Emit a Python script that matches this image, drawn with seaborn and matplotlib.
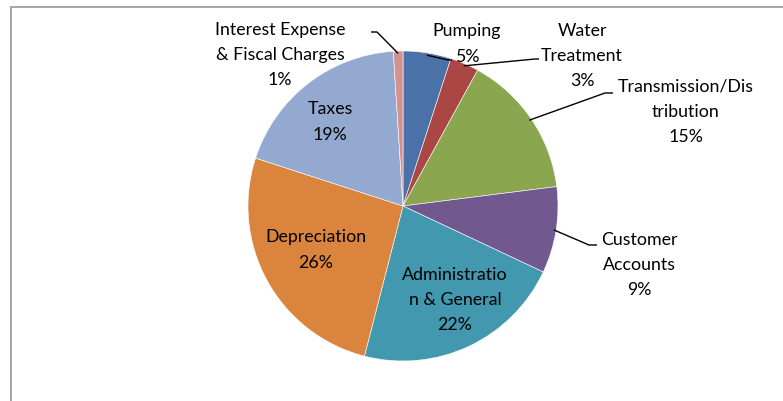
import numpy as np
import matplotlib
matplotlib.use("Agg")
import matplotlib.pyplot as plt
import seaborn as sns
from matplotlib.lines import Line2D

categories = ["Pumping", "Water\nTreatment", "Transmission/Dis\ntribution", "Customer\nAccounts",
              "Administratio\nn & General", "Depreciation", "Taxes",
              "Interest Expense\n& Fiscal Charges"]
values = [5, 3, 15, 9, 22, 26, 19, 1]
colors = ["#4A72A8", "#AA4643", "#8AA64F", "#71588F", "#4198AF", "#DB843D", "#93A9CF", "#D09392"]

# label positions (pixels, y from top) and whether outside with leader
label_pos = [(467, 44, True), (582, 56, True), (686, 112, True), (639, 265, True),
             (455, 300, False), (316, 250, False), (330, 122, False), (280, 55, True)]
# leader elbow points (pixels)
elbows = [(448, 61), (535, 60), (605, 94), (589, 246), None, None, None, (377, 33)]
elbow_end = [(452, 61), (539, 60), (613, 94), (597, 246), None, None, None, (371, 33)]

sns.set_theme(style="white")
plt.rcParams["font.family"] = ["Lato", "DejaVu Sans"]

W, H = 783, 402
fig = plt.figure(figsize=(W / 100, H / 100), dpi=100)
ax = fig.add_axes([0, 0, 1, 1])

cx, cy, r = 403, H - 207, 155
wedges, _ = ax.pie(values, colors=colors, startangle=90, counterclock=False,
                   center=(cx, cy), radius=r, frame=True,
                   wedgeprops=dict(edgecolor="white", linewidth=0.4))
ax.set_xlim(0, W)
ax.set_ylim(0, H)
ax.set_aspect("equal")
ax.axis("off")

for w, lab, v, (lx, ly, outside), el, ee in zip(wedges, categories, values, label_pos, elbows, elbow_end):
    txt = f"{lab}\n{v}%"
    ax.text(lx, H - ly, txt, ha="center", va="center", fontsize=12.8,
            color="#000000", linespacing=1.72)
    if outside:
        ang = np.deg2rad((w.theta1 + w.theta2) / 2)
        px = cx + 0.985 * r * np.cos(ang)
        py = cy + 0.985 * r * np.sin(ang)
        ax.plot([px, el[0], ee[0]], [py, H - el[1], H - ee[1]], color="black", lw=1.0,
                solid_capstyle="butt")

# chart frame (left & top edges visible)
fig.add_artist(Line2D([10.5 / W, 10.5 / W], [0, 1 - 7.5 / H], transform=fig.transFigure,
                      color="#A6A6A6", lw=1.4))
fig.add_artist(Line2D([10.5 / W, 1], [1 - 7.5 / H, 1 - 7.5 / H], transform=fig.transFigure,
                      color="#A6A6A6", lw=1.4))

fig.savefig("out.png", dpi=100, facecolor="white")
